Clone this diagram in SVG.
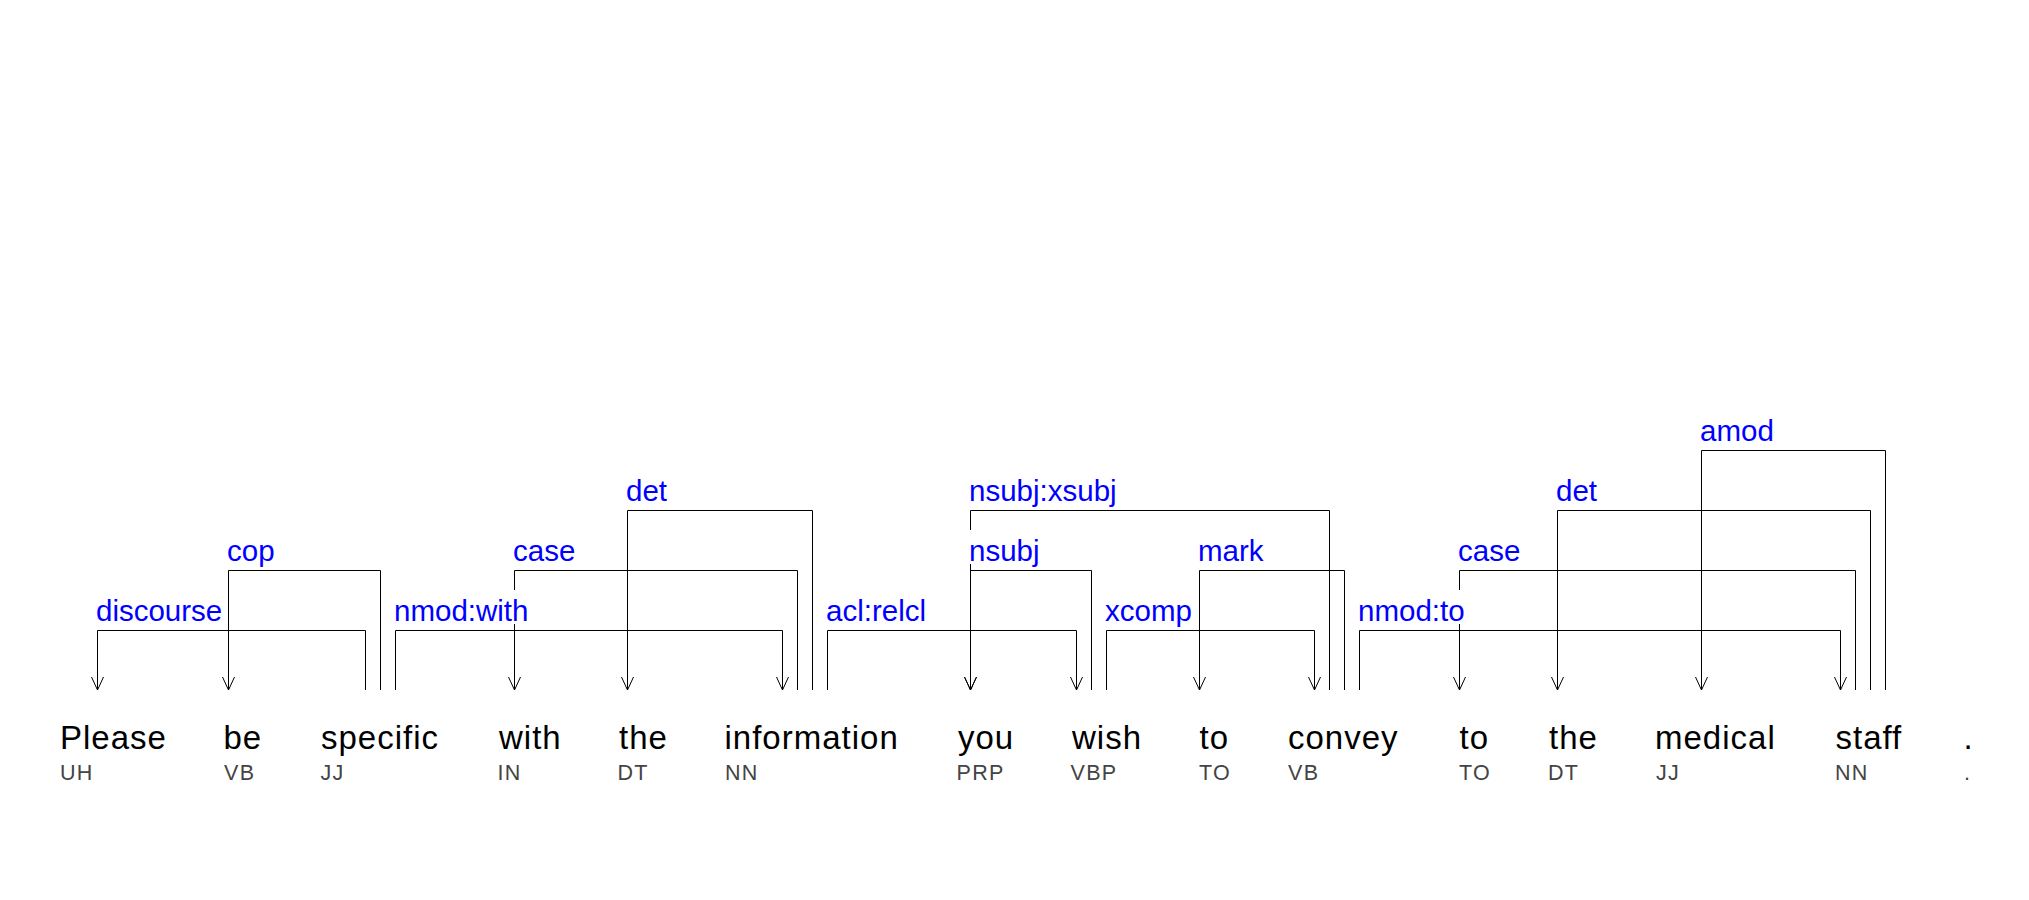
<svg xmlns="http://www.w3.org/2000/svg" width="2029" height="900" viewBox="0 0 2029 900">
<defs>
<style>
.w{font-family:"Liberation Sans",Arial,sans-serif;font-size:33px;letter-spacing:1px;fill:#000}
.t{font-family:"Liberation Sans",Arial,sans-serif;font-size:21.5px;letter-spacing:1.3px;fill:#444}
.l{font-family:"Liberation Sans",Arial,sans-serif;font-size:29.5px;fill:#0000ff}
.e{fill:none;stroke:#000;stroke-width:1;marker-end:url(#ah)}
.bg{fill:#fff}
</style>
<marker id="ah" markerUnits="userSpaceOnUse" markerWidth="16" markerHeight="16" refX="14" refY="8" orient="auto" overflow="visible">
<path d="M1,2 L14,8 L1,14" fill="none" stroke="#000" stroke-width="1"/>
</marker>
</defs>
<rect width="2029" height="900" fill="#fff"/>
<g id="connectors">
<path id="e-discourse" class="e" d="M365.5,690 V630.5 H97.5 V690"/>
<path id="e-cop" class="e" d="M380.5,690 V570.5 H228.5 V690"/>
<path id="e-nmod-with" class="e" d="M395.5,690 V630.5 H782.5 V690"/>
<path id="e-case1" class="e" d="M797.5,690 V570.5 H514.5 V690"/>
<path id="e-det1" class="e" d="M812.5,690 V510.5 H627.5 V690"/>
<path id="e-acl" class="e" d="M827.5,690 V630.5 H1076.5 V690"/>
<path id="e-nsubj" class="e" d="M1091.5,690 V570.5 H970.5 V690"/>
<path id="e-xsubj" class="e" d="M1329.5,690 V510.5 H970.5 V690"/>
<path id="e-xcomp" class="e" d="M1106.5,690 V630.5 H1314.5 V690"/>
<path id="e-mark" class="e" d="M1344.5,690 V570.5 H1199.5 V690"/>
<path id="e-nmod-to" class="e" d="M1359.5,690 V630.5 H1840.5 V690"/>
<path id="e-case2" class="e" d="M1855.5,690 V570.5 H1459.5 V690"/>
<path id="e-det2" class="e" d="M1870.5,690 V510.5 H1557.5 V690"/>
<path id="e-amod" class="e" d="M1885.5,690 V450.5 H1701.5 V690"/>
</g>
<g id="edge-labels">
<rect class="bg" x="96" y="590" width="126" height="34"/><text class="l" x="96" y="621">discourse</text>
<rect class="bg" x="227" y="530" width="48" height="34"/><text class="l" x="227" y="561">cop</text>
<rect class="bg" x="394" y="590" width="135" height="34"/><text class="l" x="394" y="621">nmod:with</text>
<rect class="bg" x="513" y="530" width="62" height="34"/><text class="l" x="513" y="561">case</text>
<rect class="bg" x="626" y="470" width="41" height="34"/><text class="l" x="626" y="501">det</text>
<rect class="bg" x="826" y="590" width="100" height="34"/><text class="l" x="826" y="621">acl:relcl</text>
<rect class="bg" x="969" y="530" width="71" height="34"/><text class="l" x="969" y="561">nsubj</text>
<rect class="bg" x="969" y="470" width="148" height="34"/><text class="l" x="969" y="501">nsubj:xsubj</text>
<rect class="bg" x="1105" y="590" width="87" height="34"/><text class="l" x="1105" y="621">xcomp</text>
<rect class="bg" x="1198" y="530" width="66" height="34"/><text class="l" x="1198" y="561">mark</text>
<rect class="bg" x="1358" y="590" width="107" height="34"/><text class="l" x="1358" y="621">nmod:to</text>
<rect class="bg" x="1458" y="530" width="62" height="34"/><text class="l" x="1458" y="561">case</text>
<rect class="bg" x="1556" y="470" width="41" height="34"/><text class="l" x="1556" y="501">det</text>
<rect class="bg" x="1700" y="410" width="74" height="34"/><text class="l" x="1700" y="441">amod</text>
</g>
<g id="w1"><text class="w" x="60" y="749">Please</text><text class="t" x="60" y="780">UH</text></g>
<g id="w2"><text class="w" x="223.5" y="749">be</text><text class="t" x="224" y="780">VB</text></g>
<g id="w3"><text class="w" x="321" y="749">specific</text><text class="t" x="320.5" y="780">JJ</text></g>
<g id="w4"><text class="w" x="499" y="749">with</text><text class="t" x="497.5" y="780">IN</text></g>
<g id="w5"><text class="w" x="619" y="749">the</text><text class="t" x="617.5" y="780">DT</text></g>
<g id="w6"><text class="w" x="724.5" y="749">information</text><text class="t" x="725" y="780">NN</text></g>
<g id="w7"><text class="w" x="958" y="749">you</text><text class="t" x="956.5" y="780">PRP</text></g>
<g id="w8"><text class="w" x="1072" y="749">wish</text><text class="t" x="1070.5" y="780">VBP</text></g>
<g id="w9"><text class="w" x="1199.5" y="749">to</text><text class="t" x="1199" y="780">TO</text></g>
<g id="w10"><text class="w" x="1288" y="749">convey</text><text class="t" x="1288" y="780">VB</text></g>
<g id="w11"><text class="w" x="1459.5" y="749">to</text><text class="t" x="1459" y="780">TO</text></g>
<g id="w12"><text class="w" x="1549" y="749">the</text><text class="t" x="1548" y="780">DT</text></g>
<g id="w13"><text class="w" x="1655" y="749">medical</text><text class="t" x="1656" y="780">JJ</text></g>
<g id="w14"><text class="w" x="1835.5" y="749">staff</text><text class="t" x="1835" y="780">NN</text></g>
<g id="w15"><text class="w" x="1963.5" y="749">.</text><text class="t" x="1964" y="780">.</text></g>
</svg>
